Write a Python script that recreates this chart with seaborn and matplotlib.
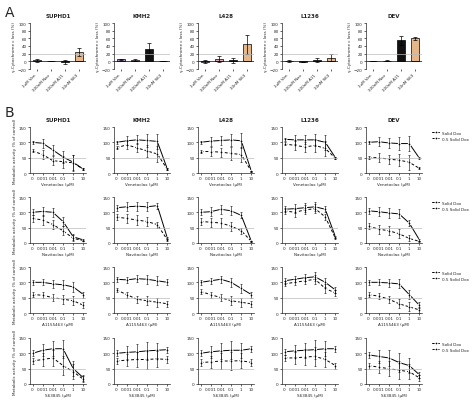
import matplotlib
matplotlib.use("Agg")
import matplotlib.pyplot as plt
import seaborn as sns
import pandas as pd
import numpy as np

sns.set_style("ticks")
plt.rcParams['font.family'] = ['DejaVu Sans']

cells = ["SUPHD1", "KMH2", "L428", "L1236", "DEV"]
bar_labels = ["1uM Ven", "100nM Nav", "100nM A11", "10nM S63"]
bar_colors = ["#b98ad6", "#e8a2b4", "#111111", "#f5b57c"]
bar_vals = {
    "SUPHD1": [3, 1, -2, 24], "KMH2": [5, 3, 33, 1], "L428": [-1, 5, 3, 45],
    "L1236": [1, -2, 3, 10], "DEV": [1, 2, 55, 60]}
bar_err = {
    "SUPHD1": [4, 1, 6, 10], "KMH2": [1, 2, 15, 1], "L428": [4, 8, 7, 25],
    "L1236": [2, 1, 5, 8], "DEV": [1, 2, 12, 4]}

drugs = ["Venetoclax", "Navitoclax", "A1155463", "S63845"]
conc = ["0", "0.001", "0.01", "0.1", "1", "10"]
solid = {
 "Venetoclax": [[100,97,75,52,35,12],[100,105,108,106,103,12],[100,104,106,108,105,5],[110,108,108,108,100,50],[100,102,98,96,96,48]],
 "Navitoclax": [[100,103,100,70,20,10],[115,118,120,118,122,15],[100,102,110,105,90,5],[110,112,115,118,110,20],[105,102,98,95,65,10]],
 "A1155463": [[100,100,95,92,85,60],[110,108,112,110,105,100],[100,105,110,100,80,60],[105,110,115,118,100,75],[100,100,98,95,60,25]],
 "S63845": [[100,110,115,115,50,20],[100,103,105,108,110,112],[100,105,108,110,110,115],[105,108,110,112,115,115],[95,90,85,70,60,30]]}
dashed = {
 "Venetoclax": [[72,60,40,37,33,12],[82,92,82,72,62,12],[70,70,68,64,60,5],[95,90,85,90,80,48],[50,50,45,42,35,15]],
 "Navitoclax": [[80,75,60,40,15,8],[85,80,75,70,60,10],[70,68,65,55,40,5],[105,100,108,112,85,15],[55,45,40,30,15,5]],
 "A1155463": [[60,58,50,45,40,25],[75,60,45,40,35,30],[70,60,50,40,35,30],[95,100,105,110,80,65],[60,55,45,30,20,10]],
 "S63845": [[75,80,85,60,40,15],[75,78,80,80,82,80],[70,72,75,75,76,70],[85,85,88,90,80,60],[60,55,50,45,40,20]]}
row_err = {"Venetoclax": [5,15,15,20,25,3], "Navitoclax": [10,15,15,15,10,3],
           "A1155463": [8,10,12,15,15,10], "S63845": [10,20,25,30,25,10]}
legend_labels = ["Solid Dox", "0.5 Solid Dox"]

fig = plt.figure(figsize=(4.74, 4.06), dpi=100)
fs = 3
W = 474; H = 406
def ax_at(x, y, w, h):
    return fig.add_axes([x / W, 1 - (y + h) / H, w / W, h / H])

fig.text(5/W, 1-17/H, "A", fontsize=10)
fig.text(5/W, 1-117/H, "B", fontsize=10)
xs = [30, 114, 198, 282, 366]
for i, c in enumerate(cells):
    ax = ax_at(xs[i], 24, 56, 46)
    df = pd.DataFrame({"g": bar_labels, "v": bar_vals[c]})
    sns.barplot(data=df, x="g", y="v", hue="g", palette=bar_colors, ax=ax,
                edgecolor="black", linewidth=0.5, width=0.6, legend=False)
    ax.errorbar(range(4), bar_vals[c], yerr=bar_err[c], fmt="none", ecolor="black",
                elinewidth=0.5, capsize=1.5, capthick=0.5)
    ax.axhline(20, color="#bbbbbb", lw=0.5)
    ax.axhline(0, color="black", lw=0.5)
    ax.set_ylim(-20, 100); ax.set_yticks(range(-20, 101, 20))
    ax.set_title(c, fontsize=4, fontweight="bold", pad=4)
    ax.set_xlabel(""); ax.set_ylabel("γ-Cytochrome c loss (%)", fontsize=fs, labelpad=1)
    ax.tick_params(labelsize=fs, length=1.5, width=0.5, pad=1)
    ax.set_xticks(range(4)); ax.set_xticklabels(bar_labels, rotation=45, ha="right")
    sns.despine(ax=ax, bottom=True)
    for s in ax.spines.values(): s.set_linewidth(0.5)

ys = [128, 198, 268, 339]
for r, d in enumerate(drugs):
    for i, c in enumerate(cells):
        ax = ax_at(xs[i], ys[r], 56, 46)
        df = pd.DataFrame({"x": list(range(6)) * 2,
                           "y": solid[d][i] + dashed[d][i],
                           "s": [legend_labels[0]] * 6 + [legend_labels[1]] * 6})
        sns.lineplot(data=df, x="x", y="y", hue="s", style="s",
                     palette=["black", "black"], dashes=[(None, None), (3, 2)],
                     markers=["o", "o"], markersize=2, lw=0.7, ax=ax,
                     legend=(i == 4))
        for vals in (solid[d][i], dashed[d][i]):
            ax.errorbar(range(6), vals, yerr=row_err[d], fmt="none", ecolor="black",
                        elinewidth=0.4, capsize=1, capthick=0.4)
        ax.axhline(50, color="#bbbbbb", lw=0.5)
        ax.set_ylim(0, 150); ax.set_yticks([0, 50, 100, 150])
        ax.set_xticks(range(6)); ax.set_xticklabels(conc)
        ax.set_xlabel(f"{d} (μM)", fontsize=fs, labelpad=1)
        ax.set_ylabel("Metabolic activity (% of control)" if i == 0 else "", fontsize=fs, labelpad=1)
        if r == 0:
            ax.set_title(c, fontsize=4, fontweight="bold", pad=4)
        ax.tick_params(labelsize=fs, length=1.5, width=0.5, pad=1)
        sns.despine(ax=ax)
        for s in ax.spines.values(): s.set_linewidth(0.5)
        if i == 4:
            ax.legend(fontsize=3, frameon=False, loc="upper left",
                      bbox_to_anchor=(1.12, 1.0), title=None, handlelength=1.5)

fig.savefig("out.png", dpi=100)
